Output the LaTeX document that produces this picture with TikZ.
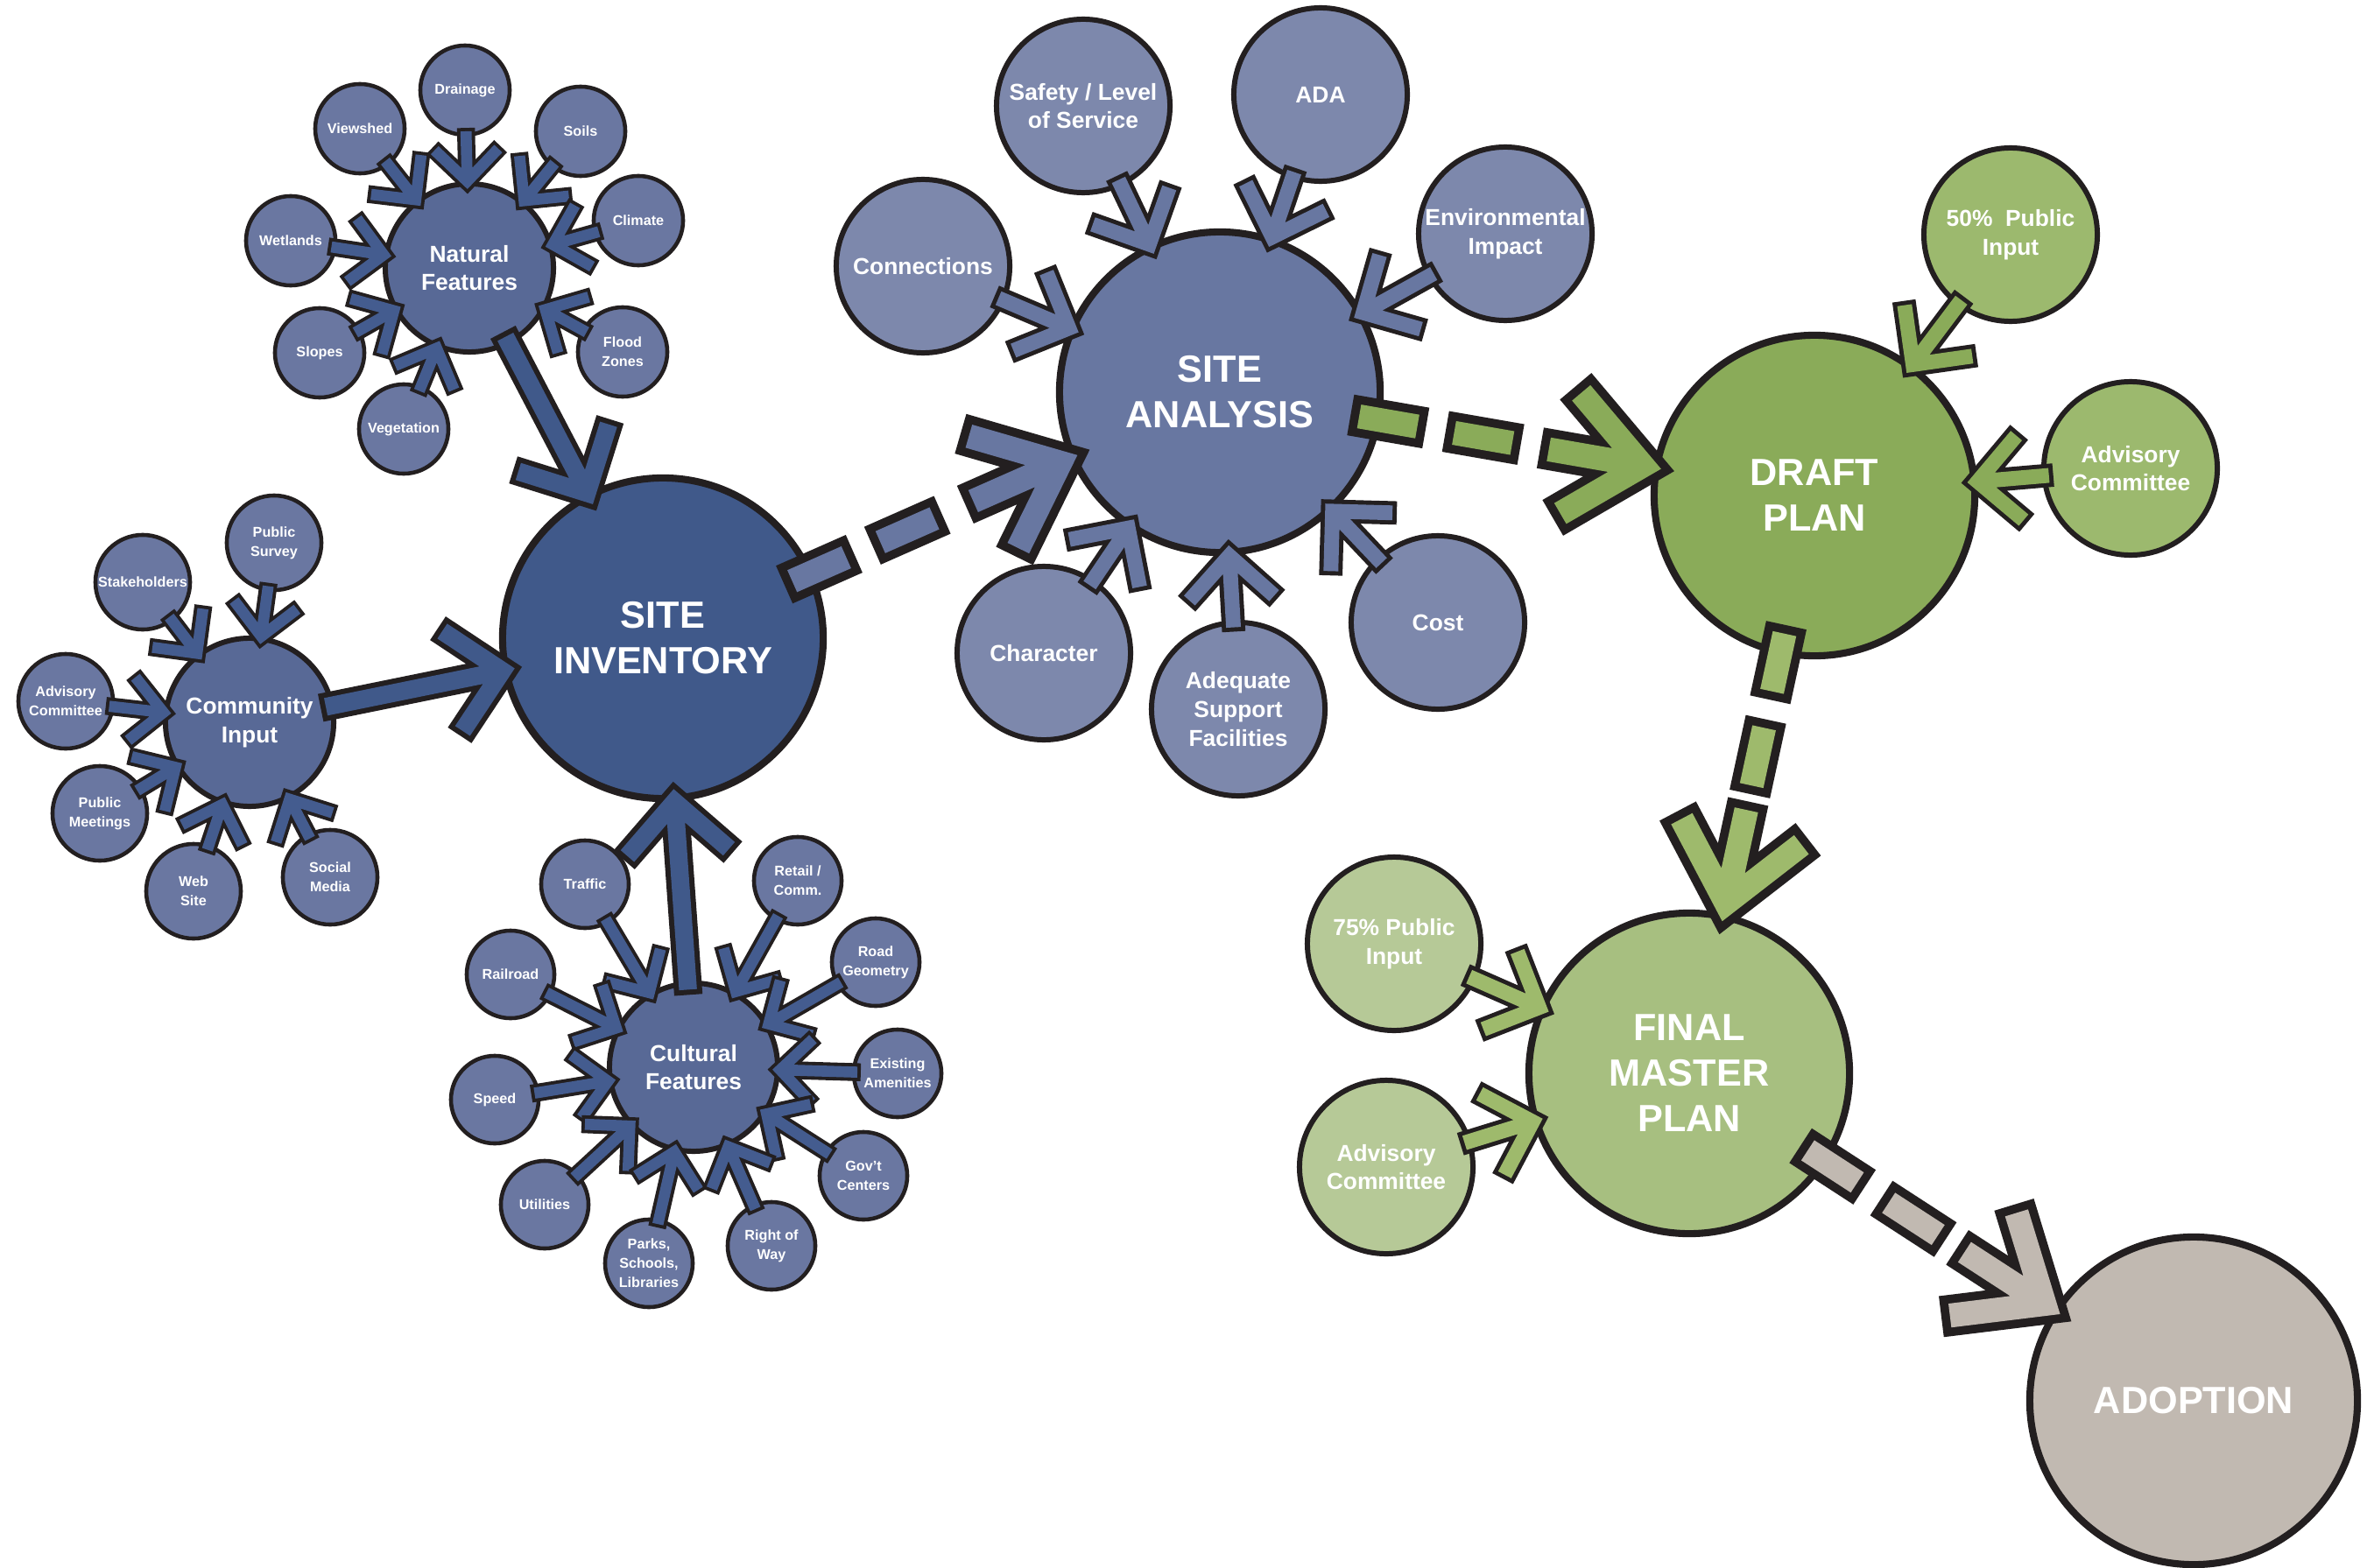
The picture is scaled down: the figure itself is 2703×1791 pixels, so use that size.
\documentclass[tikz,border=0pt]{standalone}
\usepackage{fontspec}
\setmainfont{Liberation Sans}
\usetikzlibrary{calc}
\definecolor{ink}{RGB}{35,31,32}
\definecolor{invblue}{RGB}{64,89,138}
\definecolor{hubblue}{RGB}{88,105,150}
\definecolor{satblue}{RGB}{106,119,161}
\definecolor{arrowblue}{RGB}{68,92,143}
\definecolor{anablue}{RGB}{104,119,161}
\definecolor{anasat}{RGB}{125,136,172}
\definecolor{draftgreen}{RGB}{138,171,89}
\definecolor{draftsat}{RGB}{156,185,110}
\definecolor{finalgreen}{RGB}{167,191,128}
\definecolor{finalsat}{RGB}{182,201,151}
\definecolor{finalarrow}{RGB}{158,186,108}
\definecolor{adoptgrey}{RGB}{193,185,177}
% block arrow: shaft plus chevron head, drawn as a doubled line
\newcommand\feed[4]{%
  \path (#2) -- (#3) coordinate[pos=0] (fa) coordinate[pos=1] (fb);
  \draw[#1] (fa) -- ($(fb)!0.3*#4!(fa)$)
    ($(fb)!#4!45:(fa)$) -- (fb) -- ($(fb)!#4!-45:(fa)$);
}
% dashed stage arrow between the big circles
\newcommand\stage[3]{%
  \path (#2) -- (#3) coordinate[pos=0] (fa) coordinate[pos=1] (fb);
  \draw[stagearrow=#1] ($(fa)!-0.12cm!(fb)$) -- ($(fa)!0.28cm!(fb)$)
    ($(fa)!0.98cm!(fb)$) -- ($(fa)!1.38cm!(fb)$);
  \coordinate (ft) at ($(fb)!0.12cm!(fa)$);
  \draw[stagearrow=#1] ($(ft)!0.95cm!40:(fa)$) -- (ft) -- ($(ft)!0.95cm!-40:(fa)$)
    ($(ft)!0.95cm!(fa)$) -- ($(ft)!0.3cm!(fa)$);
}
\begin{document}
\begin{tikzpicture}[x=0.01cm, y=-0.01cm,
  bubble/.style={circle, draw=ink, text=white, align=center, inner sep=0pt},
  big/.style={bubble, line width=2.3pt, minimum size=3.66cm, font=\fontsize{12.3}{14.8}\selectfont\bfseries},
  mid/.style={bubble, line width=1.7pt, minimum size=1.98cm, font=\fontsize{7.5}{9.3}\selectfont\bfseries},
  hub/.style={bubble, line width=1.7pt, minimum size=1.92cm, font=\fontsize{7.5}{9.3}\selectfont\bfseries},
  tiny/.style={bubble, line width=1.3pt, minimum size=1.02cm, font=\fontsize{4.6}{6.2}\selectfont\bfseries},
  smallfeed/.style={draw=ink, line width=1.1pt, double=#1, double distance=3.6pt, line cap=rect, line join=miter},
  midfeed/.style={draw=ink, line width=1.4pt, double=#1, double distance=4.8pt, line cap=rect, line join=miter},
  hubfeed/.style={draw=ink, line width=1.7pt, double=#1, double distance=5.8pt, line cap=rect, line join=miter},
  stagearrow/.style={draw=ink, line width=2.8pt, double=#1, double distance=7.8pt, line cap=rect, line join=miter}]
\fill[white] (0,0) rectangle (2703,1791);
\useasboundingbox (0,0) rectangle (2703,1791);

\node[big, fill=invblue] (inv) at (757,729) {SITE\\INVENTORY};
\node[big, fill=anablue] (ana) at (1393,448) {SITE\\ANALYSIS};
\node[big, fill=draftgreen] (draft) at (2072,566) {DRAFT\\PLAN};
\node[big, fill=finalgreen] (final) at (1929,1226) {FINAL\\MASTER\\PLAN};
\node[big, fill=adoptgrey, minimum size=3.74cm] (adopt) at (2505,1600) {ADOPTION};

\node[hub, fill=hubblue] (nat) at (536,306) {Natural\\Features};
\node[tiny, fill=satblue] (drain) at (531,103) {Drainage};
\node[tiny, fill=satblue] (view) at (411,147) {Viewshed};
\node[tiny, fill=satblue] (soil) at (663,150) {Soils};
\node[tiny, fill=satblue] (clim) at (729,252) {Climate};
\node[tiny, fill=satblue] (wet) at (332,275) {Wetlands};
\node[tiny, fill=satblue] (slope) at (365,403) {Slopes};
\node[tiny, fill=satblue] (veg) at (461,490) {Vegetation};
\node[tiny, fill=satblue] (flood) at (711,402) {Flood\\Zones};

\node[hub, fill=hubblue] (com) at (285,825) {Community\\Input};
\node[tiny, fill=satblue, minimum size=1.08cm] (survey) at (313,620) {Public\\Survey};
\node[tiny, fill=satblue, minimum size=1.08cm] (stake) at (163,665) {Stakeholders};
\node[tiny, fill=satblue, minimum size=1.08cm] (advc) at (75,801) {Advisory\\Committee};
\node[tiny, fill=satblue, minimum size=1.08cm] (meet) at (114,929) {Public\\Meetings};
\node[tiny, fill=satblue, minimum size=1.08cm] (web) at (221,1018) {Web\\Site};
\node[tiny, fill=satblue, minimum size=1.08cm] (social) at (377,1002) {Social\\Media};

\node[hub, fill=hubblue] (cul) at (792,1219) {Cultural\\Features};
\node[tiny, fill=satblue, minimum size=1cm] (traffic) at (668,1010) {Traffic};
\node[tiny, fill=satblue, minimum size=1cm] (retail) at (911,1006) {Retail /\\Comm.};
\node[tiny, fill=satblue, minimum size=1cm] (rail) at (583,1113) {Railroad};
\node[tiny, fill=satblue, minimum size=1cm] (road) at (1000,1099) {Road\\Geometry};
\node[tiny, fill=satblue, minimum size=1cm] (speed) at (565,1256) {Speed};
\node[tiny, fill=satblue, minimum size=1cm] (amen) at (1025,1226) {Existing\\Amenities};
\node[tiny, fill=satblue, minimum size=1cm] (util) at (622,1376) {Utilities};
\node[tiny, fill=satblue, minimum size=1cm] (gov) at (986,1343) {Gov’t\\Centers};
\node[tiny, fill=satblue, minimum size=1cm] (parks) at (741,1443) {Parks,\\Schools,\\Libraries};
\node[tiny, fill=satblue, minimum size=1cm] (row) at (881,1423) {Right of\\Way};

\node[mid, fill=anasat] (safety) at (1237,121) {Safety / Level\\of Service};
\node[mid, fill=anasat] (ada) at (1508,108) {ADA};
\node[mid, fill=anasat] (env) at (1719,267) {Environmental\\Impact};
\node[mid, fill=anasat] (conn) at (1054,304) {Connections};
\node[mid, fill=anasat] (char) at (1192,746) {Character};
\node[mid, fill=anasat] (support) at (1414,810) {Adequate\\Support\\Facilities};
\node[mid, fill=anasat] (cost) at (1642,711) {Cost};

\node[mid, fill=draftsat] (pub50) at (2296,268) {50\%~ Public\\Input};
\node[mid, fill=draftsat] (adv50) at (2433,535) {Advisory\\Committee};
\node[mid, fill=finalsat] (pub75) at (1592,1078) {75\% Public\\Input};
\node[mid, fill=finalsat] (adv75) at (1583,1333) {Advisory\\Committee};

\foreach \s in {drain,view,soil,clim,wet,slope,veg,flood}
  \feed{smallfeed=arrowblue}{\s}{nat}{0.45cm};
\foreach \s in {survey,stake,advc,meet,web,social}
  \feed{smallfeed=arrowblue}{\s}{com}{0.45cm};
\foreach \s in {traffic,retail,rail,road,speed,amen,util,gov,parks,row}
  \feed{smallfeed=arrowblue}{\s}{cul}{0.45cm};
\foreach \s in {nat,com,cul}
  \feed{hubfeed=invblue}{\s}{inv}{0.72cm};
\foreach \s in {safety,ada,env,conn,char,support,cost}
  \feed{midfeed=anablue}{\s}{ana}{0.6cm};
\foreach \s in {pub50,adv50}
  \feed{midfeed=draftgreen}{\s}{draft}{0.6cm};
\foreach \s in {pub75,adv75}
  \feed{midfeed=finalarrow}{\s}{final}{0.6cm};

\stage{anablue}{inv}{ana}
\stage{draftgreen}{ana}{draft}
\stage{finalarrow}{draft}{final}
\stage{adoptgrey}{final}{adopt}
\end{tikzpicture}
\end{document}
